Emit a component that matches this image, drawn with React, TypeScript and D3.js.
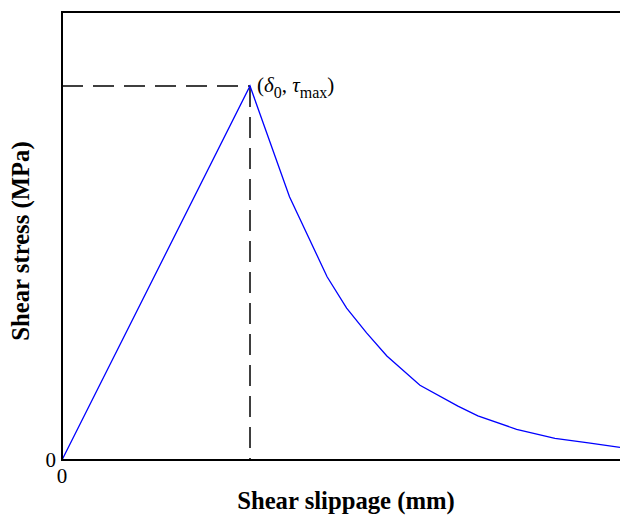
import React from "react";
import * as d3 from "d3";

// Shear slippage (mm) and shear stress (MPa)
const slip = [0, 5.0, 6.05, 7.05, 7.57, 8.1, 8.64, 9.52, 10.53, 11.06, 12.09, 13.11, 14.0, 14.84];
const stress = [0, 5.0, 3.52, 2.45, 2.03, 1.7, 1.39, 1.0, 0.72, 0.59, 0.41, 0.29, 0.23, 0.17];
const peakSlip = 5.0;
const peakStress = 5.0;
const xTickLabels = ["0"];
const yTickLabels = ["0"];

const W = 620;
const H = 515;
const left = 62;
const right = 620;
const top = 12;
const bottom = 460;
const serif = "Liberation Serif";

export default function App() {
  const x = d3.scaleLinear().domain([0, 14.84]).range([left, right]);
  const y = d3.scaleLinear().domain([0, 6]).range([bottom, bottom - 6 * 74.8]);
  const pts: [number, number][] = slip.map((s, i) => [s, stress[i]]);
  const line = d3
    .line<[number, number]>()
    .x((d) => x(d[0]))
    .y((d) => y(d[1]));
  const px = x(peakSlip);
  const py = y(peakStress);
  return (
    <svg
      width={W}
      height={H}
      style={{ position: "absolute", left: 0, top: 0, display: "block", background: "#fff" }}
    >
      <rect width={W} height={H} fill="#fff" />
      {/* dashed guides */}
      <line x1={x(0)} x2={px} y1={py} y2={py} stroke="#000" strokeWidth={1.5} strokeDasharray="21,10" />
      <line x1={px} x2={px} y1={py} y2={y(0)} stroke="#000" strokeWidth={1.5} strokeDasharray="21,10" />
      {/* curve */}
      <path d={line(pts) || ""} fill="none" stroke="#0000ff" strokeWidth={1.3} />
      {/* axes */}
      <line x1={left} x2={left} y1={top} y2={bottom} stroke="#000" strokeWidth={2} />
      <line x1={left - 1} x2={right} y1={top} y2={top} stroke="#000" strokeWidth={2} />
      <line x1={left - 1} x2={right} y1={bottom} y2={bottom} stroke="#000" strokeWidth={2} />
      {/* tick labels */}
      {yTickLabels.map((t) => (
        <text key={"y" + t} x={left - 6} y={y(0) + 7} fontSize={21} textAnchor="end" style={{ fontFamily: serif }}>
          {t}
        </text>
      ))}
      {xTickLabels.map((t) => (
        <text key={"x" + t} x={x(0)} y={bottom + 23} fontSize={21} textAnchor="middle" style={{ fontFamily: serif }}>
          {t}
        </text>
      ))}
      {/* annotation */}
      <text x={px + 7} y={py + 6} fontSize={21} style={{ fontFamily: serif }}>
        <tspan>(</tspan>
        <tspan fontStyle="italic">δ</tspan>
        <tspan fontSize={16} dy={6}>0</tspan>
        <tspan dy={-6}>, </tspan>
        <tspan fontStyle="italic">τ</tspan>
        <tspan fontSize={16} dy={6}>max</tspan>
        <tspan dy={-6}>)</tspan>
      </text>
      {/* axis titles */}
      <text x={346} y={509} fontSize={24.7} fontWeight="bold" textAnchor="middle" style={{ fontFamily: serif }}>
        Shear slippage (mm)
      </text>
      <text
        transform={`translate(28.5,241) rotate(-90)`}
        fontSize={24.7}
        fontWeight="bold"
        textAnchor="middle"
        style={{ fontFamily: serif }}
      >
        Shear stress (MPa)
      </text>
    </svg>
  );
}
